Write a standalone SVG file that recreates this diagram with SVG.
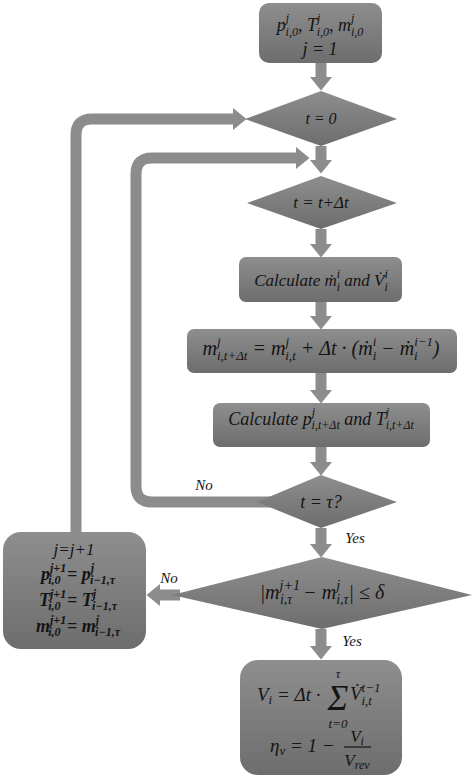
<svg xmlns="http://www.w3.org/2000/svg" width="474" height="776" viewBox="0 0 474 776">
<style>
.t{font-family:"Liberation Serif","DejaVu Serif",serif;font-style:italic;fill:#141414;}
.b{font-weight:bold;}
.node{fill:url(#g);}
.conn{fill:none;stroke:#8c8c8c;stroke-width:11;}
.lab{font-family:"Liberation Serif","DejaVu Serif",serif;font-style:italic;font-size:15px;fill:#141414;}
</style>
<defs>
<linearGradient id="g" x1="0" y1="0" x2="0" y2="1">
<stop offset="0" stop-color="#8e8e8e"/>
<stop offset="1" stop-color="#6d6d6d"/>
</linearGradient>
<marker id="ah" markerUnits="userSpaceOnUse" markerWidth="15" markerHeight="26" refX="0" refY="12" orient="auto" overflow="visible">
<path d="M0,1 L13.5,12 L0,23 Z" fill="#8c8c8c"/>
</marker>
</defs>
<g id="connectors">
<path class="conn" d="M76,532 V135 Q76,119 92,119 H233" marker-end="url(#ah)"/>
<path class="conn" d="M300,502 H152 Q136,502 136,486 V174 Q136,158 152,158 H296" marker-end="url(#ah)"/>
<path class="conn" d="M321,63 V77" marker-end="url(#ah)"/>
<path class="conn" d="M321,146 V160" marker-end="url(#ah)"/>
<path class="conn" d="M321,229 V244" marker-end="url(#ah)"/>
<path class="conn" d="M321,302 V316" marker-end="url(#ah)"/>
<path class="conn" d="M321,373 V390" marker-end="url(#ah)"/>
<path class="conn" d="M321,447 V462" marker-end="url(#ah)"/>
<path class="conn" d="M321,528 V544" marker-end="url(#ah)"/>
<path class="conn" d="M321,629 V646" marker-end="url(#ah)"/>
<path class="conn" d="M180,595 H160" marker-end="url(#ah)"/>
</g>
<g id="start">
<rect class="node" x="259" y="3" width="123" height="60" rx="10"/>
<text class="t" x="320" y="31" font-size="18" text-anchor="middle">p<tspan font-size="12" dy="-9">j</tspan><tspan font-size="12" dx="-3.5" dy="14">i,0</tspan><tspan dy="-5">, T</tspan><tspan font-size="12" dy="-9">j</tspan><tspan font-size="12" dx="-3.5" dy="14">i,0</tspan><tspan dy="-5">, m</tspan><tspan font-size="12" dy="-9">j</tspan><tspan font-size="12" dx="-3.5" dy="14">i,0</tspan></text>
<text class="t" x="320" y="55" font-size="18" text-anchor="middle">j = 1</text>
</g>
<g id="t0">
<polygon class="node" points="245,119 321,91 397,119 321,146"/>
<text class="t" x="321" y="124" font-size="16" text-anchor="middle">t = 0</text>
</g>
<g id="tstep">
<polygon class="node" points="247,203 321,176 397,203 321,229"/>
<text class="t" x="321" y="208" font-size="17" text-anchor="middle">t = t+Δt</text>
</g>
<g id="calc1">
<rect class="node" x="239" y="257" width="163" height="45" rx="7"/>
<text class="t" x="321" y="286" font-size="17" text-anchor="middle">Calculate ṁ<tspan font-size="12" dy="-8">i</tspan><tspan font-size="12" dx="-3.4" dy="13">i</tspan><tspan dy="-5"> and V&#x307;</tspan><tspan font-size="12" dy="-8">i</tspan><tspan font-size="12" dx="-3.4" dy="13">i</tspan></text>
</g>
<g id="mass">
<rect class="node" x="187" y="329" width="270" height="44" rx="7"/>
<text class="t" x="321" y="355" font-size="20" text-anchor="middle">m<tspan font-size="13" dy="-9">j</tspan><tspan font-size="13" dx="-3.7" dy="14">i,t+Δt</tspan><tspan dy="-5"> = m</tspan><tspan font-size="13" dy="-9">j</tspan><tspan font-size="13" dx="-3.7" dy="14">i,t</tspan><tspan dy="-5"> + Δt · (ṁ</tspan><tspan font-size="13" dy="-9">i</tspan><tspan font-size="13" dx="-3.7" dy="14">i</tspan><tspan dy="-5"> − ṁ</tspan><tspan font-size="13" dy="-9">i−1</tspan><tspan font-size="13" dx="-19" dy="14">i</tspan><tspan dx="15" dy="-5">)</tspan></text>
</g>
<g id="calc2">
<rect class="node" x="213" y="403" width="217" height="44" rx="7"/>
<text class="t" x="321" y="425" font-size="18" text-anchor="middle">Calculate p<tspan font-size="12" dy="-9">j</tspan><tspan font-size="12" dx="-3.4" dy="13">i,t+Δt</tspan><tspan dy="-4"> and T</tspan><tspan font-size="12" dy="-9">j</tspan><tspan font-size="12" dx="-3.4" dy="13">i,t+Δt</tspan></text>
</g>
<g id="ttau">
<polygon class="node" points="257,502 321,475 397,502 321,528"/>
<text class="t" x="321" y="508" font-size="18" text-anchor="middle">t = τ?</text>
</g>
<g id="conv">
<polygon class="node" points="172,595 322,557 472,595 322,629"/>
<text class="t" x="322" y="599" font-size="20" text-anchor="middle">|m<tspan font-size="14" dy="-9">j+1</tspan><tspan font-size="14" dx="-20" dy="14">i,τ</tspan><tspan dx="6" dy="-5"> − m</tspan><tspan font-size="14" dy="-9">j</tspan><tspan font-size="14" dx="-4" dy="14">i,τ</tspan><tspan dy="-5">| ≤ δ</tspan></text>
</g>
<g id="update">
<rect class="node" x="3" y="532" width="143" height="117" rx="18"/>
<text class="t" x="74" y="555" font-size="17" text-anchor="middle">j=j+1</text>
<text class="t b" x="78" y="580" font-size="18" text-anchor="middle">p<tspan font-size="12" dy="-8">j+1</tspan><tspan font-size="12" dx="-18" dy="12">i,0</tspan><tspan dx="2" dy="-4"> = p</tspan><tspan font-size="12" dy="-8">j</tspan><tspan font-size="12" dx="-4" dy="12">i−1,τ</tspan></text>
<text class="t b" x="78" y="606" font-size="18" text-anchor="middle">T<tspan font-size="12" dy="-8">j+1</tspan><tspan font-size="12" dx="-18" dy="12">i,0</tspan><tspan dx="2" dy="-4"> = T</tspan><tspan font-size="12" dy="-8">j</tspan><tspan font-size="12" dx="-4" dy="12">i−1,τ</tspan></text>
<text class="t b" x="78" y="632" font-size="18" text-anchor="middle">m<tspan font-size="12" dy="-8">j+1</tspan><tspan font-size="12" dx="-18" dy="12">i,0</tspan><tspan dx="2" dy="-4"> = m</tspan><tspan font-size="12" dy="-8">j</tspan><tspan font-size="12" dx="-4" dy="12">i−1,τ</tspan></text>
</g>
<g id="result">
<rect class="node" x="240" y="660" width="162" height="115" rx="18"/>
<text class="t" x="257" y="701" font-size="19">V<tspan font-size="13" dy="3">i</tspan><tspan dy="-3"> = Δt ·</tspan></text>
<text class="t" x="338" y="710" font-size="35" font-style="normal" text-anchor="middle">Σ</text>
<text class="t" x="338" y="678" font-size="13" text-anchor="middle">τ</text>
<text class="t" x="338" y="728" font-size="13" text-anchor="middle">t=0</text>
<text class="t" x="350" y="700" font-size="19">V&#x307;<tspan font-size="13" dy="-8">t−1</tspan><tspan font-size="13" dx="-19" dy="13">i,t</tspan></text>
<text class="t" x="270" y="752" font-size="19">η<tspan font-size="13" dy="3">v</tspan><tspan dy="-3"> = 1 −</tspan></text>
<text class="t" x="357" y="742" font-size="17" text-anchor="middle">V<tspan font-size="12" dy="3">i</tspan></text>
<line x1="344" y1="747" x2="371" y2="747" stroke="#141414" stroke-width="1.2"/>
<text class="t" x="357" y="766" font-size="17" text-anchor="middle">V<tspan font-size="12" dy="3">rev</tspan></text>
</g>
<g id="labels">
<text class="lab" x="204" y="490" text-anchor="middle">No</text>
<text class="lab" x="355" y="543" text-anchor="middle">Yes</text>
<text class="lab" x="169" y="583" text-anchor="middle">No</text>
<text class="lab" x="352" y="646" text-anchor="middle">Yes</text>
</g>
</svg>
